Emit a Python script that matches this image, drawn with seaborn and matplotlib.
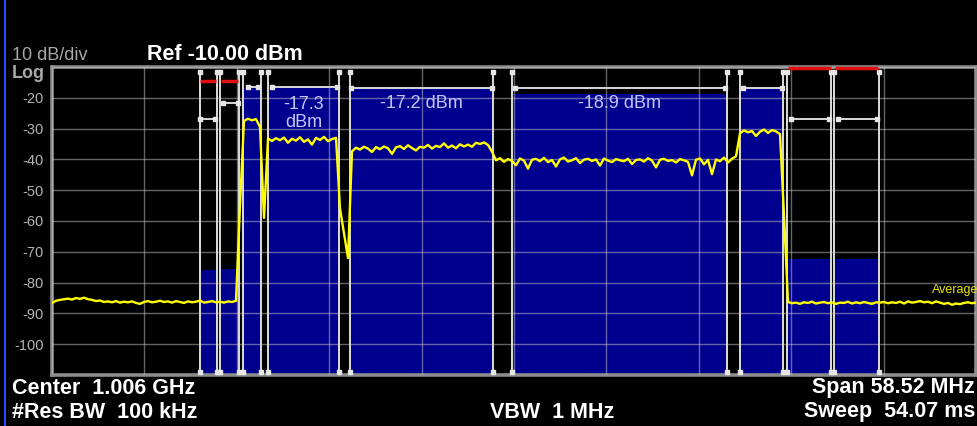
import numpy as np
import matplotlib
matplotlib.use("Agg")
import matplotlib.pyplot as plt
from matplotlib.lines import Line2D
import seaborn as sns

# Spectrum analyzer screen - channel power measurement
center_mhz = 1006.0
span_mhz = 58.52

# Swept trace in dBm (evenly spaced sweep points, left to right)
trace_dbm = [
    # noise floor left of the carriers
    -86.6, -85.9, -85.6, -85.4, -85.2, -85.5, -85.0, -85.3, -84.9, -85.4,
    -85.6, -86.0, -85.8, -86.3, -86.1, -86.4, -86.0, -86.5, -86.2, -86.4,
    -86.1, -86.6, -86.9, -86.3, -86.0, -86.4, -86.2, -85.9, -86.3, -86.1,
    -86.5, -86.0, -86.3, -86.6, -86.1, -86.4, -86.2, -85.8, -86.5, -86.3,
    -86.0, -86.4, -86.2, -86.5, -86.1, -86.3, -85.9,
    # rise, narrow carrier and notch
    -55.0, -27.5, -26.8, -27.3, -26.9, -29.5, -59.0,
    # first wide carrier
    -33.2, -34.0, -33.1, -33.8, -32.9, -34.6, -33.3, -33.9, -32.8, -34.3,
    -33.5, -35.2, -33.0, -33.7, -32.7, -34.1, -33.4, -33.0,
    # notch
    -56.0, -64.0, -72.0,
    # second carrier
    -37.4, -36.2, -36.8, -35.9, -36.5, -37.6, -36.0, -36.7, -35.8, -36.4,
    -38.2, -36.1, -35.7, -36.6, -35.4, -36.3, -37.1, -35.9, -36.2, -35.3,
    -36.5, -35.6, -36.0, -34.8, -36.2, -35.5, -36.4, -35.1, -35.8, -35.2,
    -35.9, -34.6, -35.0, -34.5, -35.3, -37.5,
    # third carrier
    -40.3, -39.6, -40.8, -39.9, -40.5, -41.9, -39.7, -40.4, -43.0, -40.1,
    -39.8, -40.6, -39.5, -40.9, -40.2, -42.3, -40.0, -39.4, -40.7, -40.3,
    -39.6, -41.2, -40.1, -39.8, -40.5, -40.0, -42.0, -39.7, -40.4, -40.9,
    -39.9, -40.3, -40.6, -39.8, -41.5, -40.2, -40.0, -40.7, -39.6, -40.4,
    -42.6, -40.1, -39.8, -40.5, -40.2, -41.0, -39.9, -40.3, -40.8, -45.2,
    -40.1, -39.7, -41.6, -40.2, -44.8, -40.0, -40.6, -39.4, -41.0, -39.8,
    -39.0,
    # last carrier
    -31.5, -30.6, -31.2, -30.8, -32.4, -31.0, -30.3, -31.4, -30.5, -30.9,
    -31.8,
    # fall off
    -58.0,
    # noise floor right of the carriers
    -86.3, -86.7, -86.5, -86.9, -86.4, -86.6, -86.2, -86.8, -86.5, -86.3,
    -86.7, -86.4, -86.9, -86.5, -86.6, -86.2, -86.8, -86.4, -86.7, -86.3,
    -86.6, -86.9, -86.4, -86.5, -86.3, -86.7, -86.4, -86.6, -86.2, -86.8,
    -86.1, -86.5, -86.3, -86.0, -86.4, -86.2, -86.7, -86.1, -86.5, -86.9,
    -86.6, -87.2, -86.8, -87.0, -86.6, -86.4, -86.7, -86.5,
]

# Integration channels: edges (MHz from center) and channel power bar (dBm)
chan_lo = [-19.89, -18.62, -17.14, -15.61, -10.39, -0.15, 14.29, 17.27, 20.27]
chan_hi = [-18.83, -17.40, -16.02, -11.06, -1.31, 13.51, 17.06, 20.08, 23.12]
chan_dbm = [-75.9, -75.6, -16.9, -16.9, -16.9, -18.8, -17.1, -72.4, -72.4]

# Channels that carry a power readout
label_chan = [3, 4, 5]
label_text = ["-17.3\ndBm", "-17.2 dBm", "-18.9 dBm"]

# Measurement bandwidth brackets
br_lo = [-19.89, -18.45, -16.83, -15.35, -10.34, 0.06, 14.50, 17.54, 20.54]
br_hi = [-18.94, -17.50, -16.19, -11.23, -1.41, 13.36, 16.95, 19.97, 22.97]
br_dbm = [-27.0, -21.6, -16.6, -16.6, -16.7, -16.7, -16.7, -27.0, -27.0]

# Limit lines (red)
lim_lo = [-19.89, -18.58, 17.35, 20.33]
lim_hi = [-18.88, -17.46, 20.06, 23.05]
lim_dbm = [-14.6, -14.6, -10.2, -10.2]

y_top, y_bot = -10, -110
ytick_vals = list(range(-110, -9, 10))
ytick_text = ["" if v in (-10, -110) else str(v) for v in ytick_vals]

sns.set_theme(style="dark")
plt.rcParams["font.family"] = ["Liberation Sans", "DejaVu Sans"]

W, H = 978, 426
fig = plt.figure(figsize=(W / 100, H / 100), dpi=100, facecolor="black")
ax = fig.add_axes([52 / W, 1 - 375 / H, 924 / W, 308 / H])
ax.set_facecolor("black")

f_start = center_mhz - span_mhz / 2
f_stop = center_mhz + span_mhz / 2
freq = np.linspace(f_start, f_stop, len(trace_dbm))

lo = np.array(chan_lo) + center_mhz
hi = np.array(chan_hi) + center_mhz
lvl = np.array(chan_dbm)

# channel power bars
ax.bar(lo, lvl - y_bot, width=hi - lo, bottom=y_bot, align="edge",
       color="#00008f", linewidth=0, zorder=1)

# channel edge lines with small end squares
edges = np.concatenate([lo, hi])
ax.vlines(edges, y_bot, -11.7, color="#dcdcdc", lw=1.4, zorder=3)
ax.plot(edges, np.full(len(edges), -11.7), "s", ms=2.2, color="#e6e6e6", zorder=3)
ax.plot(edges, np.full(len(edges), -108.9), "s", ms=2.2, color="#e6e6e6", zorder=3)

# bandwidth brackets
blo = np.array(br_lo) + center_mhz
bhi = np.array(br_hi) + center_mhz
ax.hlines(br_dbm, blo, bhi, color="#d8d8d8", lw=1.4, zorder=3)
ax.plot(np.concatenate([blo, bhi]), br_dbm + br_dbm, "s", ms=2.2,
        color="#e6e6e6", zorder=3)

# trace
sns.lineplot(x=freq, y=trace_dbm, ax=ax, color="#ffff00", lw=1.7, zorder=4)

# limit lines
ax.hlines(lim_dbm, np.array(lim_lo) + center_mhz, np.array(lim_hi) + center_mhz,
          color="#e01010", lw=2.5, zorder=6, clip_on=False)

# readouts
for i, txt in zip(label_chan, label_text):
    yy = -25.1 if "\n" in txt else -21.7
    ax.text((lo[i] + hi[i]) / 2, yy, txt, ha="center", va="center",
            fontsize=13, color="#c4c4ff", zorder=5, linespacing=1.15)

ax.set_xlim(f_start, f_stop)
ax.set_ylim(y_bot, y_top)
ax.set_xticks(np.linspace(f_start, f_stop, 11))
ax.set_xticklabels([])
ax.set_yticks(ytick_vals)
ax.set_yticklabels(ytick_text)
ax.tick_params(length=0, pad=6, labelsize=10.5, labelcolor="#b4b4b4")
ax.set_axisbelow(False)
ax.grid(True, color="#c8c8c8", alpha=0.5, lw=1)
for s in ax.spines.values():
    s.set_color("#8a8a8a")
    s.set_linewidth(2.6)
ax.set_xlabel("")
ax.set_ylabel("")


def fpos(x, y):
    return x / W, 1 - y / H


fig.text(*fpos(12, 56), "10 dB/div", fontsize=13, color="#a8a8a8", va="center")
fig.text(*fpos(12, 74), "Log", fontsize=13, color="#a8a8a8", va="center",
         fontweight="bold")
fig.text(*fpos(147, 54), "Ref -10.00 dBm", fontsize=15.5, color="white",
         va="center", fontweight="bold")
fig.text(*fpos(932, 290), "Average", fontsize=9, color="#e8e800", va="center")

bottom_kw = dict(fontsize=15.5, color="white", fontweight="bold", va="center")
fig.text(*fpos(12, 388), "Center  1.006 GHz", **bottom_kw)
fig.text(*fpos(12, 412), "#Res BW  100 kHz", **bottom_kw)
fig.text(*fpos(490, 412), "VBW  1 MHz", **bottom_kw)
fig.text(*fpos(975, 388), "Span 58.52 MHz", ha="right", **bottom_kw)
fig.text(*fpos(975, 412), "Sweep  54.07 ms", ha="right", **bottom_kw)

fig.add_artist(Line2D([5 / W, 5 / W], [0, 1], color="#2848ff", lw=1.5))

fig.savefig("out.png", dpi=100, facecolor="black")
